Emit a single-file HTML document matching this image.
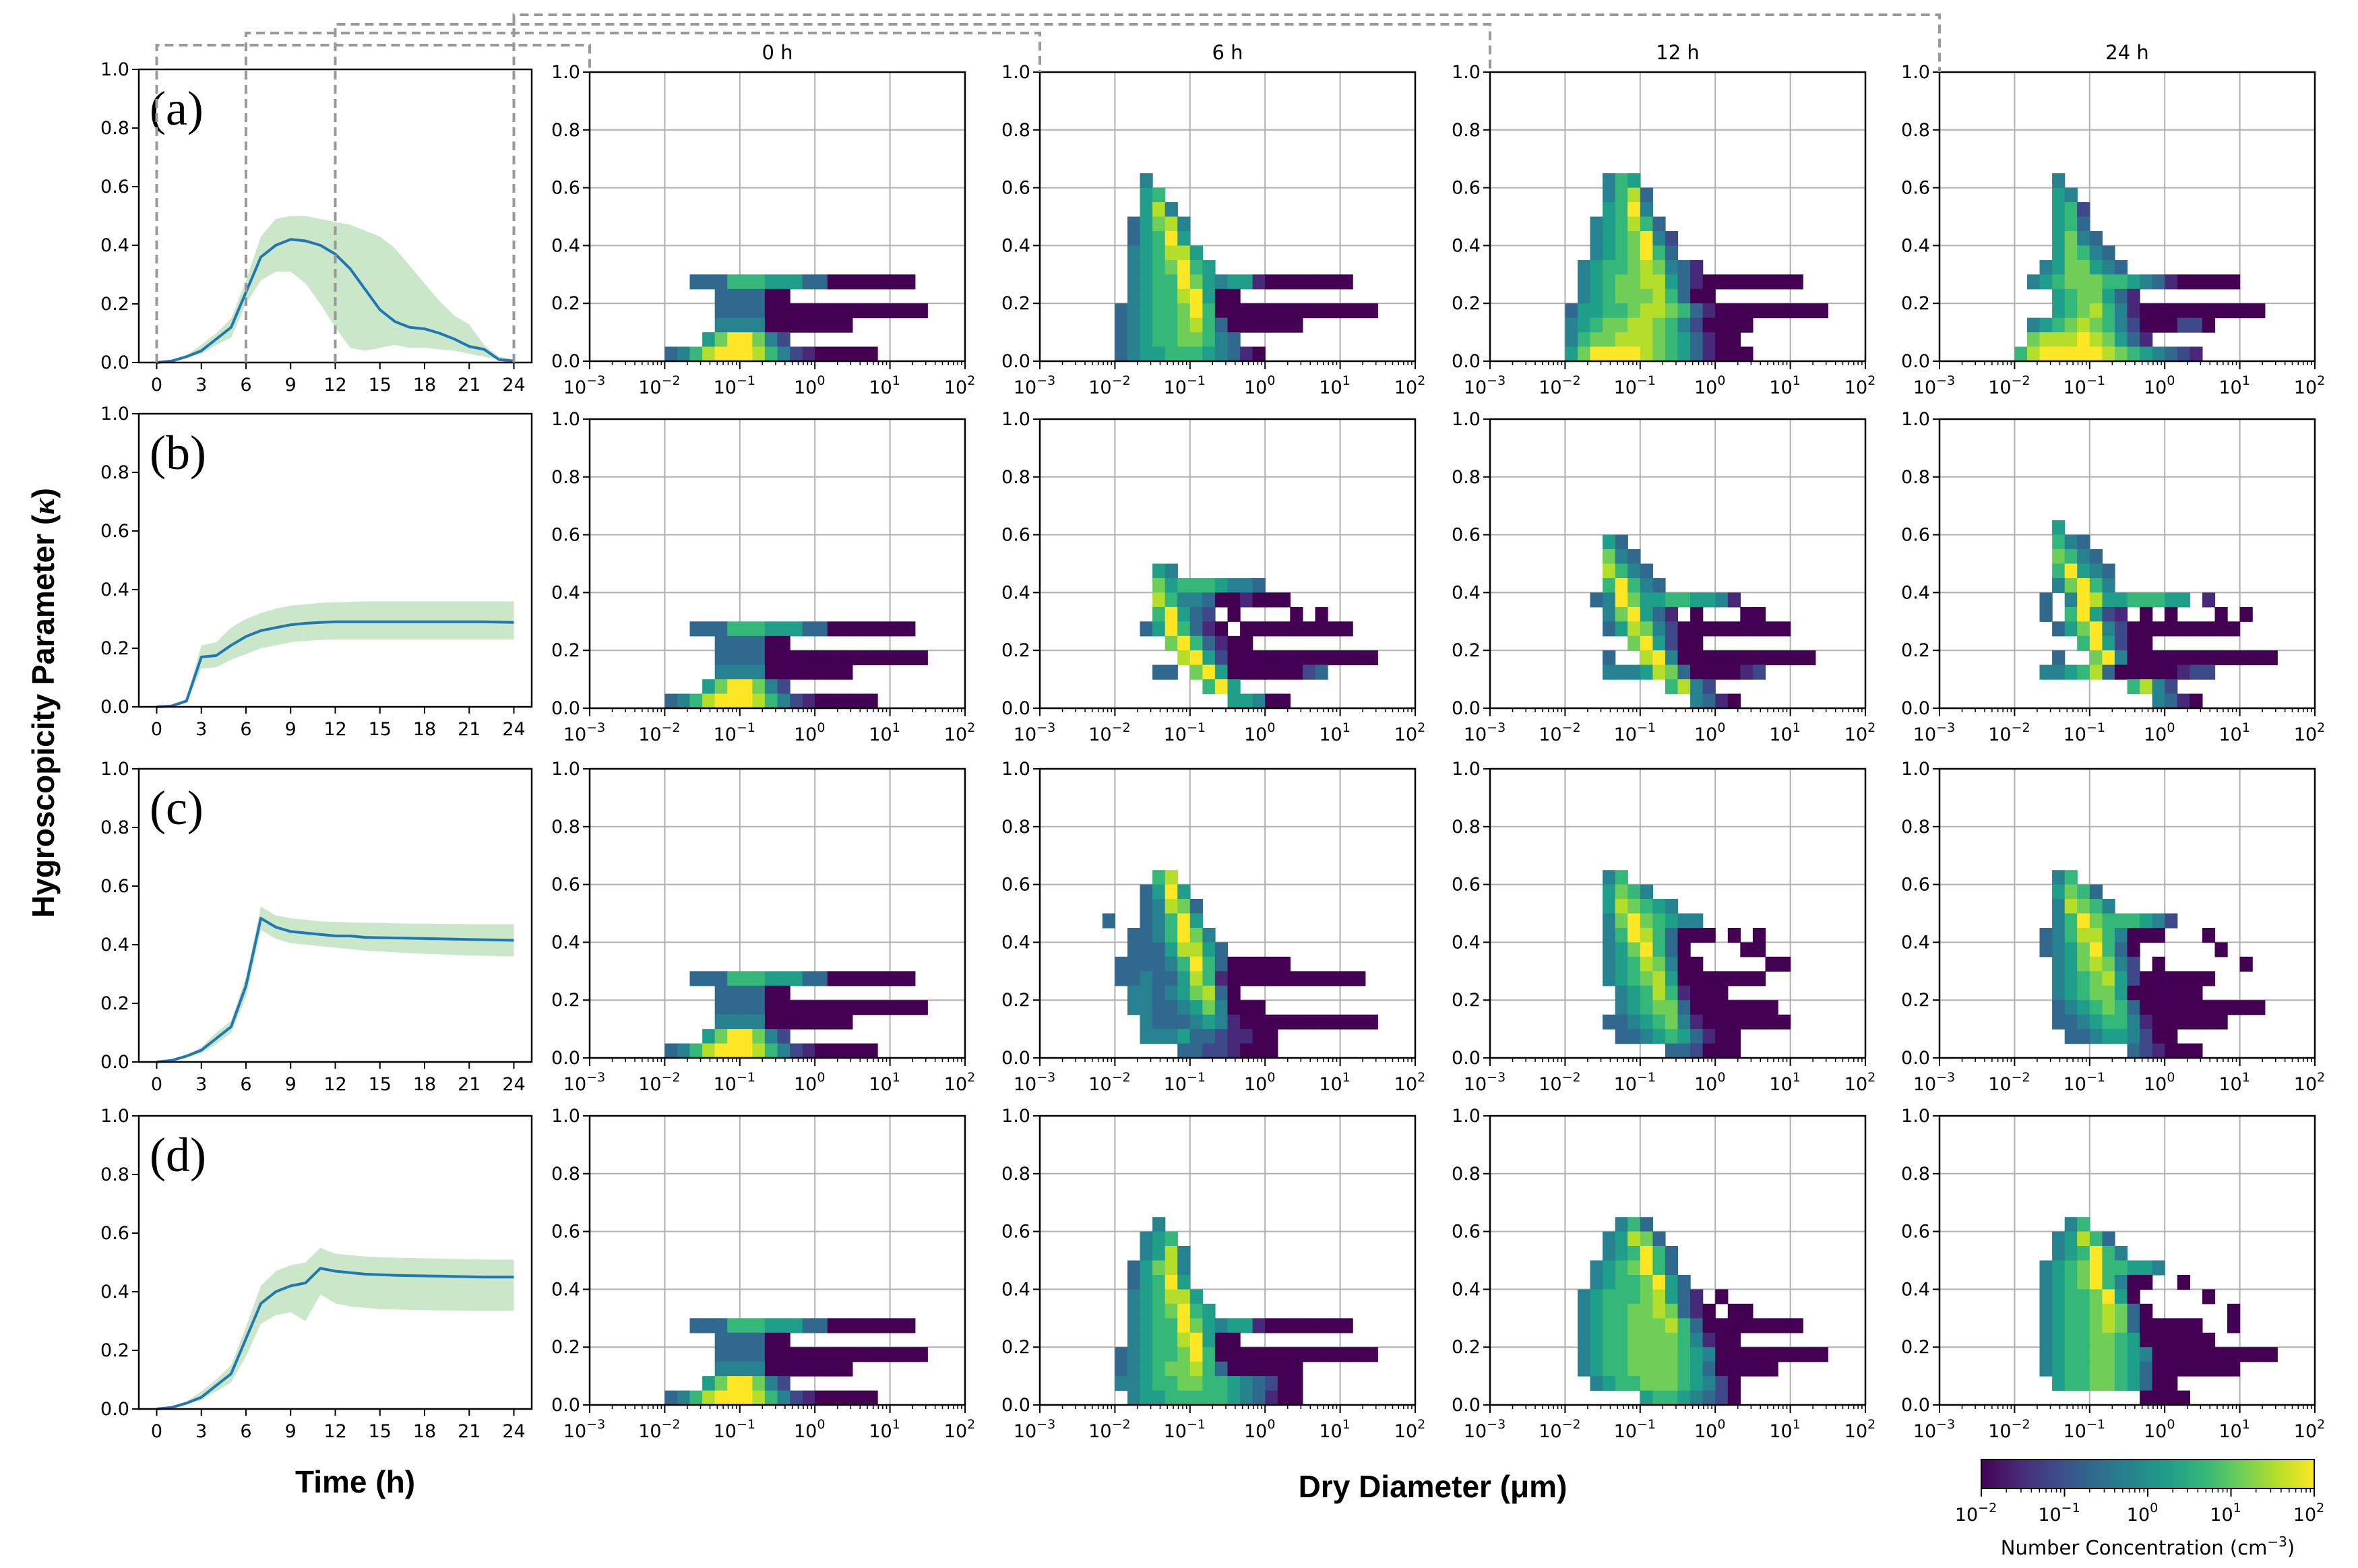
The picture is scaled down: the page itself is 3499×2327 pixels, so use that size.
<!DOCTYPE html>
<html><head><meta charset="utf-8"><style>
html,body{margin:0;padding:0;background:#fff;}
svg{display:block;font-family:"DejaVu Sans","Liberation Sans",sans-serif;}
</style></head><body>
<svg id="fig" width="3499" height="2327" viewBox="0 0 3499 2327" xmlns="http://www.w3.org/2000/svg">
<defs><linearGradient id="vir" x1="0" x2="1" y1="0" y2="0">
<stop offset="0" stop-color="#440154"/><stop offset="0.11" stop-color="#482878"/><stop offset="0.22" stop-color="#3e4989"/><stop offset="0.33" stop-color="#31688e"/><stop offset="0.44" stop-color="#26828e"/><stop offset="0.56" stop-color="#1f9e89"/><stop offset="0.67" stop-color="#35b779"/><stop offset="0.78" stop-color="#6ece58"/><stop offset="0.89" stop-color="#b5de2b"/><stop offset="1" stop-color="#fde725"/></linearGradient></defs>
<text x="0" y="0" transform="translate(80,1043) rotate(-90)" text-anchor="middle" font-weight="bold" font-size="46" font-family="Liberation Sans, sans-serif">Hygroscopicity  Parameter (<tspan font-style="italic" font-family="Liberation Serif, serif">κ</tspan>)</text>
<text x="527" y="2215" text-anchor="middle" font-weight="bold" font-size="46" font-family="Liberation Sans, sans-serif">Time (h)</text>
<text x="2126" y="2222" text-anchor="middle" font-weight="bold" font-size="46" font-family="Liberation Sans, sans-serif">Dry Diameter (μm)</text>
</svg>
<script>
const hours=[0,1,2,3,4,5,6,7,8,9,10,11,12,13,14,15,16,17,18,19,20,21,22,23,24];
const meanA=[0,0.005,0.02,0.04,0.08,0.12,0.24,0.36,0.40,0.42,0.415,0.40,0.37,0.32,0.25,0.18,0.14,0.12,0.115,0.10,0.08,0.055,0.045,0.01,0.005];
const lowA=[0,0,0.015,0.03,0.06,0.085,0.2,0.28,0.31,0.31,0.27,0.2,0.12,0.05,0.04,0.05,0.06,0.05,0.05,0.045,0.04,0.03,0.02,0.01,0.005];
const upA=[0,0.005,0.025,0.06,0.1,0.15,0.28,0.43,0.49,0.5,0.5,0.49,0.48,0.47,0.45,0.43,0.39,0.33,0.27,0.21,0.16,0.13,0.06,0.02,0.01];
const meanB=[0,0.003,0.02,0.17,0.175,0.21,0.24,0.26,0.27,0.28,0.285,0.288,0.29,0.29,0.29,0.29,0.29,0.29,0.29,0.29,0.29,0.29,0.29,0.289,0.288];
const upB=[0,0.005,0.025,0.21,0.22,0.27,0.30,0.32,0.335,0.345,0.35,0.355,0.357,0.358,0.36,0.36,0.36,0.36,0.36,0.36,0.36,0.36,0.36,0.36,0.36];
const lowB=[0,0.002,0.015,0.13,0.135,0.16,0.18,0.2,0.21,0.22,0.225,0.228,0.23,0.23,0.23,0.23,0.23,0.23,0.23,0.23,0.23,0.23,0.23,0.23,0.23];
const meanC=[0,0.005,0.02,0.04,0.08,0.12,0.26,0.49,0.46,0.445,0.44,0.435,0.43,0.43,0.425,0.424,0.423,0.422,0.421,0.42,0.419,0.418,0.417,0.416,0.415];
const upC=[0,0.008,0.025,0.05,0.1,0.14,0.29,0.53,0.5,0.49,0.485,0.48,0.478,0.476,0.475,0.474,0.473,0.472,0.472,0.471,0.471,0.47,0.47,0.47,0.47];
const lowC=[0,0.003,0.015,0.03,0.06,0.1,0.22,0.45,0.42,0.405,0.4,0.395,0.39,0.385,0.38,0.377,0.374,0.371,0.369,0.367,0.365,0.363,0.362,0.361,0.36];
const meanD=[0,0.005,0.02,0.04,0.08,0.12,0.24,0.36,0.40,0.42,0.43,0.48,0.47,0.465,0.46,0.458,0.456,0.455,0.454,0.453,0.452,0.451,0.45,0.45,0.45];
const upD=[0,0.008,0.025,0.06,0.1,0.15,0.28,0.42,0.47,0.49,0.5,0.55,0.53,0.525,0.52,0.518,0.516,0.515,0.514,0.513,0.512,0.511,0.51,0.51,0.51];
const lowD=[0,0.003,0.015,0.03,0.06,0.09,0.18,0.29,0.32,0.33,0.3,0.39,0.36,0.35,0.345,0.34,0.34,0.338,0.337,0.336,0.336,0.335,0.335,0.335,0.335];
const timeTicks=[0,3,6,9,12,15,18,21,24];
const kappaTicks=[0,0.2,0.4,0.6,0.8,1.0];
const decadeTicks=[-3,-2,-1,0,1,2];
const columnTitles=["0 h","6 h","12 h","24 h"];
const panelLetters=["(a)","(b)","(c)","(d)"];
const snapshotHours=[0,6,12,24];
const heat0h=["","","","","","","","     333666555330000000  ","       333300           ","       33330000000000000","       44440000000      ","      5799742           ","   34689998642100000    "];
const heatA6=["     4                  ","     56                 ","     584                ","    35784               ","    35695               ","    456885              ","    4567965             ","    456697545510000000  ","    456689500           ","   345667960000000000000","   345667863000000      ","   3456677643           ","   345566654310         "];
const heatA12=["      465               ","      4683              ","      5694              ","     456863             ","     4567942            ","     4567963            ","    4566787431          ","    456778853100000000  ","    45677786300         ","   355667887631000000000","   456778876420000      ","   46778887653100       ","   579999876531000      "];
const heatA24=["      4                 ","      54                ","      562               ","      563               ","      5743              ","      57643             ","     4577543            ","    45677766543100000   ","      5677531           ","      56786410000000000 ","    456787642000220     ","    7888987531          ","   689999987654321      "];
const heatB6=["","","","      54                ","      756665443         ","      86443001000       ","      69532 0    0 0    ","     3596310 000000000  ","       7963100          ","        8952000000000000","      33 79500000023    ","          695           ","            55400       "];
const heatB12=["","      53                ","      743               ","      8643              ","      69643             ","     349755665541       ","      479531 0   00     ","      358742000000000   ","        795200          ","      3  89400000000000 ","      4445873000012     ","           6842         ","             4310       "];
const heatB24=["      5                 ","      643               ","      7643              ","      69543             ","      47964             ","     3 4985566655 1     ","     3 69521 0 0   0 0  ","      357942000000000   ","        695200          ","      3  794000000000000","     44568300000122     ","            6842        ","              4310      "];
const heatC6=["      68                ","     3595               ","     34873              ","  3  34695              ","    3346974             ","    33358853            ","   33334696300000       ","   33433586100000000000 ","    443457830           ","    44334574000         ","     4333454100000000000","     44453321100        ","        33221000        "];
const heatC12=["      46                ","      5764              ","      587654            ","      47976544          ","      469863000 0 0     ","      4579630    00     ","      45687400     00   ","      4567850000000     ","       456861000        ","       4567730000000    ","      334567410000000   ","       3345653100       ","           332000       "];
const heatC24=["      46                ","      5763              ","      48764             ","      4697666542        ","     3468864000   0     ","     34579630      0    ","      4578742 0      0  ","      4567852000000     ","      456775000000      ","      34567630000000000 ","      33456641000000    ","       334554200        ","            321000      "];
const heatD6=["      4                 ","     456                ","     4584               ","    35784               ","    35695               ","    456885              ","    4567965             ","    456697545510000000  ","    456689500           ","   345667960000000000000","   345677863000000      ","   445667766543200      ","    45566666543100      "];
const heatD12=["       463              ","      45873             ","      456963            ","     4567963            ","     45667953           ","    4566678531 0        ","    45667787310 00      ","    456677786300000000  ","    4566777764100       ","    45667777654000000000","    4566777765300000    ","     456677765420       ","         56654320       "];
const heatD24=["       46               ","      45863             ","      456964            ","     4567966554         ","     456796400  0       ","     45667950     0     ","     456678730      0   ","     4566787300000  0   ","     45667765000000     ","     4566776540000000000","     4566776530000000   ","      5667765300        ","             0000       "];
const cbTicks=[-2,-1,0,1,2];

const viridis=["#440154","#482878","#3e4989","#31688e","#26828e","#1f9e89","#35b779","#6ece58","#b5de2b","#fde725"];
const NS="http://www.w3.org/2000/svg";
const svg=document.getElementById('fig');
function mk(tag,attrs,parent){const e=document.createElementNS(NS,tag);for(const k in attrs)e.setAttribute(k,attrs[k]);(parent||svg).appendChild(e);return e;}
const supMap={"-3":"−3","-2":"−2","-1":"−1","0":"0","1":"1","2":"2"};

// geometry
const LX0=206,LW=583,LH=435;
const lineTops=[103,614,1141,1656];
const HX=[875,1543,2211,2878],HW=557,HH=429;
const heatTops=[107,622,1141,1656];
const lineSeries=[[meanA,lowA,upA],[meanB,lowB,upB],[meanC,lowC,upC],[meanD,lowD,upD]];
const heatRows=[[heat0h,heatA6,heatA12,heatA24],[heat0h,heatB6,heatB12,heatB24],[heat0h,heatC6,heatC12,heatC24],[heat0h,heatD6,heatD12,heatD24]];
const tx=t=>LX0+(t+1.2)/26.4*LW;

for(let r=0;r<4;r++){
  const top=lineTops[r];
  const ty=v=>top+LH*(1-v);
  const g=mk('g',{});
  
  
  const [m,lo,up]=lineSeries[r];
  let d='';
  hours.forEach((h,i)=>{d+=(i?'L':'M')+tx(h).toFixed(1)+','+ty(up[i]).toFixed(1);});
  for(let i=hours.length-1;i>=0;i--)d+='L'+tx(hours[i]).toFixed(1)+','+ty(lo[i]).toFixed(1);
  const band=mk('path',{d:d+'Z',fill:'#2ca02c','fill-opacity':0.25,stroke:'none'},g);
  
  
  let dl='';
  hours.forEach((h,i)=>{dl+=(i?'L':'M')+tx(h).toFixed(1)+','+ty(m[i]).toFixed(1);});
  const ln=mk('path',{d:dl,fill:'none',stroke:'#1f77b4','stroke-width':4,'stroke-linejoin':'round'},g);
  
  
  const fr=mk('rect',{x:LX0,y:top,width:LW,height:LH,fill:'none',stroke:'#000','stroke-width':2.5},g);
  
  
  timeTicks.forEach(t=>{
    mk('line',{x1:tx(t),x2:tx(t),y1:top+LH,y2:top+LH+10,stroke:'#000','stroke-width':2},g);
    const lb=mk('text',{x:tx(t),y:top+LH+42,'text-anchor':'middle','font-size':27},g);
    lb.textContent=t;
    
    
  });
  kappaTicks.forEach(v=>{
    mk('line',{x1:LX0-10,x2:LX0,y1:ty(v),y2:ty(v),stroke:'#000','stroke-width':2},g);
    const lb=mk('text',{x:LX0-14,y:ty(v)+9,'text-anchor':'end','font-size':27},g);
    lb.textContent=v.toFixed(1);
    
    
  });
  const pl=mk('text',{x:222,y:top+82,'font-size':72,'font-family':'Liberation Serif, serif'},g);
  pl.textContent=panelLetters[r];
  
  
}

for(let r=0;r<4;r++){
  for(let c=0;c<4;c++){
    const x0=HX[c],top=heatTops[r];
    const sx=l=>x0+(l+3)/5*HW;
    const sy=v=>top+HH*(1-v);
    const g=mk('g',{});
    
    
    // grid
    decadeTicks.forEach(l=>{mk('line',{x1:sx(l),x2:sx(l),y1:top,y2:top+HH,stroke:'#b0b0b0','stroke-width':2},g);});
    kappaTicks.forEach(v=>{mk('line',{x1:x0,x2:x0+HW,y1:sy(v),y2:sy(v),stroke:'#b0b0b0','stroke-width':2},g);});
    const rows=heatRows[r][c];
    rows.forEach((s,ri)=>{
      const yHi=0.65-0.05*ri, yLo=yHi-0.05;
      for(let ci=0;ci<s.length;ci++){
        const ch=s[ci]; if(ch===' ')continue;
        const lv=+ch;
        const l0=-2.5+ci/6,l1=-2.5+(ci+1)/6;
        const cell=mk('rect',{x:sx(l0).toFixed(1),y:sy(yHi).toFixed(1),width:(sx(l1)-sx(l0)+0.6).toFixed(1),height:(sy(yLo)-sy(yHi)+0.6).toFixed(1),fill:viridis[lv]},g);
        
        
      }
    });
    const fr=mk('rect',{x:x0,y:top,width:HW,height:HH,fill:'none',stroke:'#000','stroke-width':2.5},g);
    
    
    decadeTicks.forEach(l=>{
      mk('line',{x1:sx(l),x2:sx(l),y1:top+HH,y2:top+HH+12,stroke:'#000','stroke-width':2},g);
      if(l<2)for(let k=2;k<10;k++){const xm=sx(l+Math.log10(k));mk('line',{x1:xm,x2:xm,y1:top+HH,y2:top+HH+6,stroke:'#000','stroke-width':1.5},g);}
      const lb=mk('text',{x:sx(l)-8,y:top+HH+48,'text-anchor':'middle','font-size':27},g);
      lb.textContent='10';
      const sp=mk('tspan',{dy:-13,'font-size':19},lb);sp.textContent=supMap[String(l)];
      
      
    });
    kappaTicks.forEach(v=>{
      mk('line',{x1:x0-10,x2:x0,y1:sy(v),y2:sy(v),stroke:'#000','stroke-width':2},g);
      const lb=mk('text',{x:x0-14,y:sy(v)+9,'text-anchor':'end','font-size':27},g);
      lb.textContent=v.toFixed(1);
      
      
    });
    if(r===0){
      const t=mk('text',{x:x0+HW/2,y:88,'text-anchor':'middle','font-size':29},g);
      t.textContent=columnTitles[c];
      
      
    }
  }
}

// dashed connectors
const connY=[67,49,36,22];
snapshotHours.forEach((h,i)=>{
  const x=tx(h);
  const p=mk('path',{d:`M${x},${lineTops[0]+LH}L${x},${connY[i]}L${HX[i]},${connY[i]}L${HX[i]},${heatTops[0]}`,fill:'none',stroke:'#999','stroke-width':4,'stroke-dasharray':'13 8'});
  
  
});

// colorbar
const CBX=2940,CBW=494,CBY=2166,CBH=43;
const cb=mk('rect',{x:CBX,y:CBY,width:CBW,height:CBH,fill:'url(#vir)',stroke:'#000','stroke-width':2});


const cx=l=>CBX+(l+2)/4*CBW;
cbTicks.forEach(l=>{
  mk('line',{x1:cx(l),x2:cx(l),y1:CBY+CBH,y2:CBY+CBH+12,stroke:'#000','stroke-width':2});
  if(l<2)for(let k=2;k<10;k++){const xm=cx(l+Math.log10(k));mk('line',{x1:xm,x2:xm,y1:CBY+CBH,y2:CBY+CBH+6,stroke:'#000','stroke-width':1.5});}
  const lb=mk('text',{x:cx(l)-8,y:CBY+CBH+48,'text-anchor':'middle','font-size':27});
  lb.textContent='10';
  const sp=mk('tspan',{dy:-13,'font-size':19},lb);sp.textContent=supMap[String(l)];
  
  
});
const cbl=mk('text',{x:CBX+CBW/2,y:2307,'text-anchor':'middle','font-size':29});
cbl.textContent='Number Concentration (cm';
const s1=mk('tspan',{dy:-12,'font-size':20},cbl);s1.textContent='−3';
const s2=mk('tspan',{dy:12},cbl);s2.textContent=')';


</script>
</body></html>
